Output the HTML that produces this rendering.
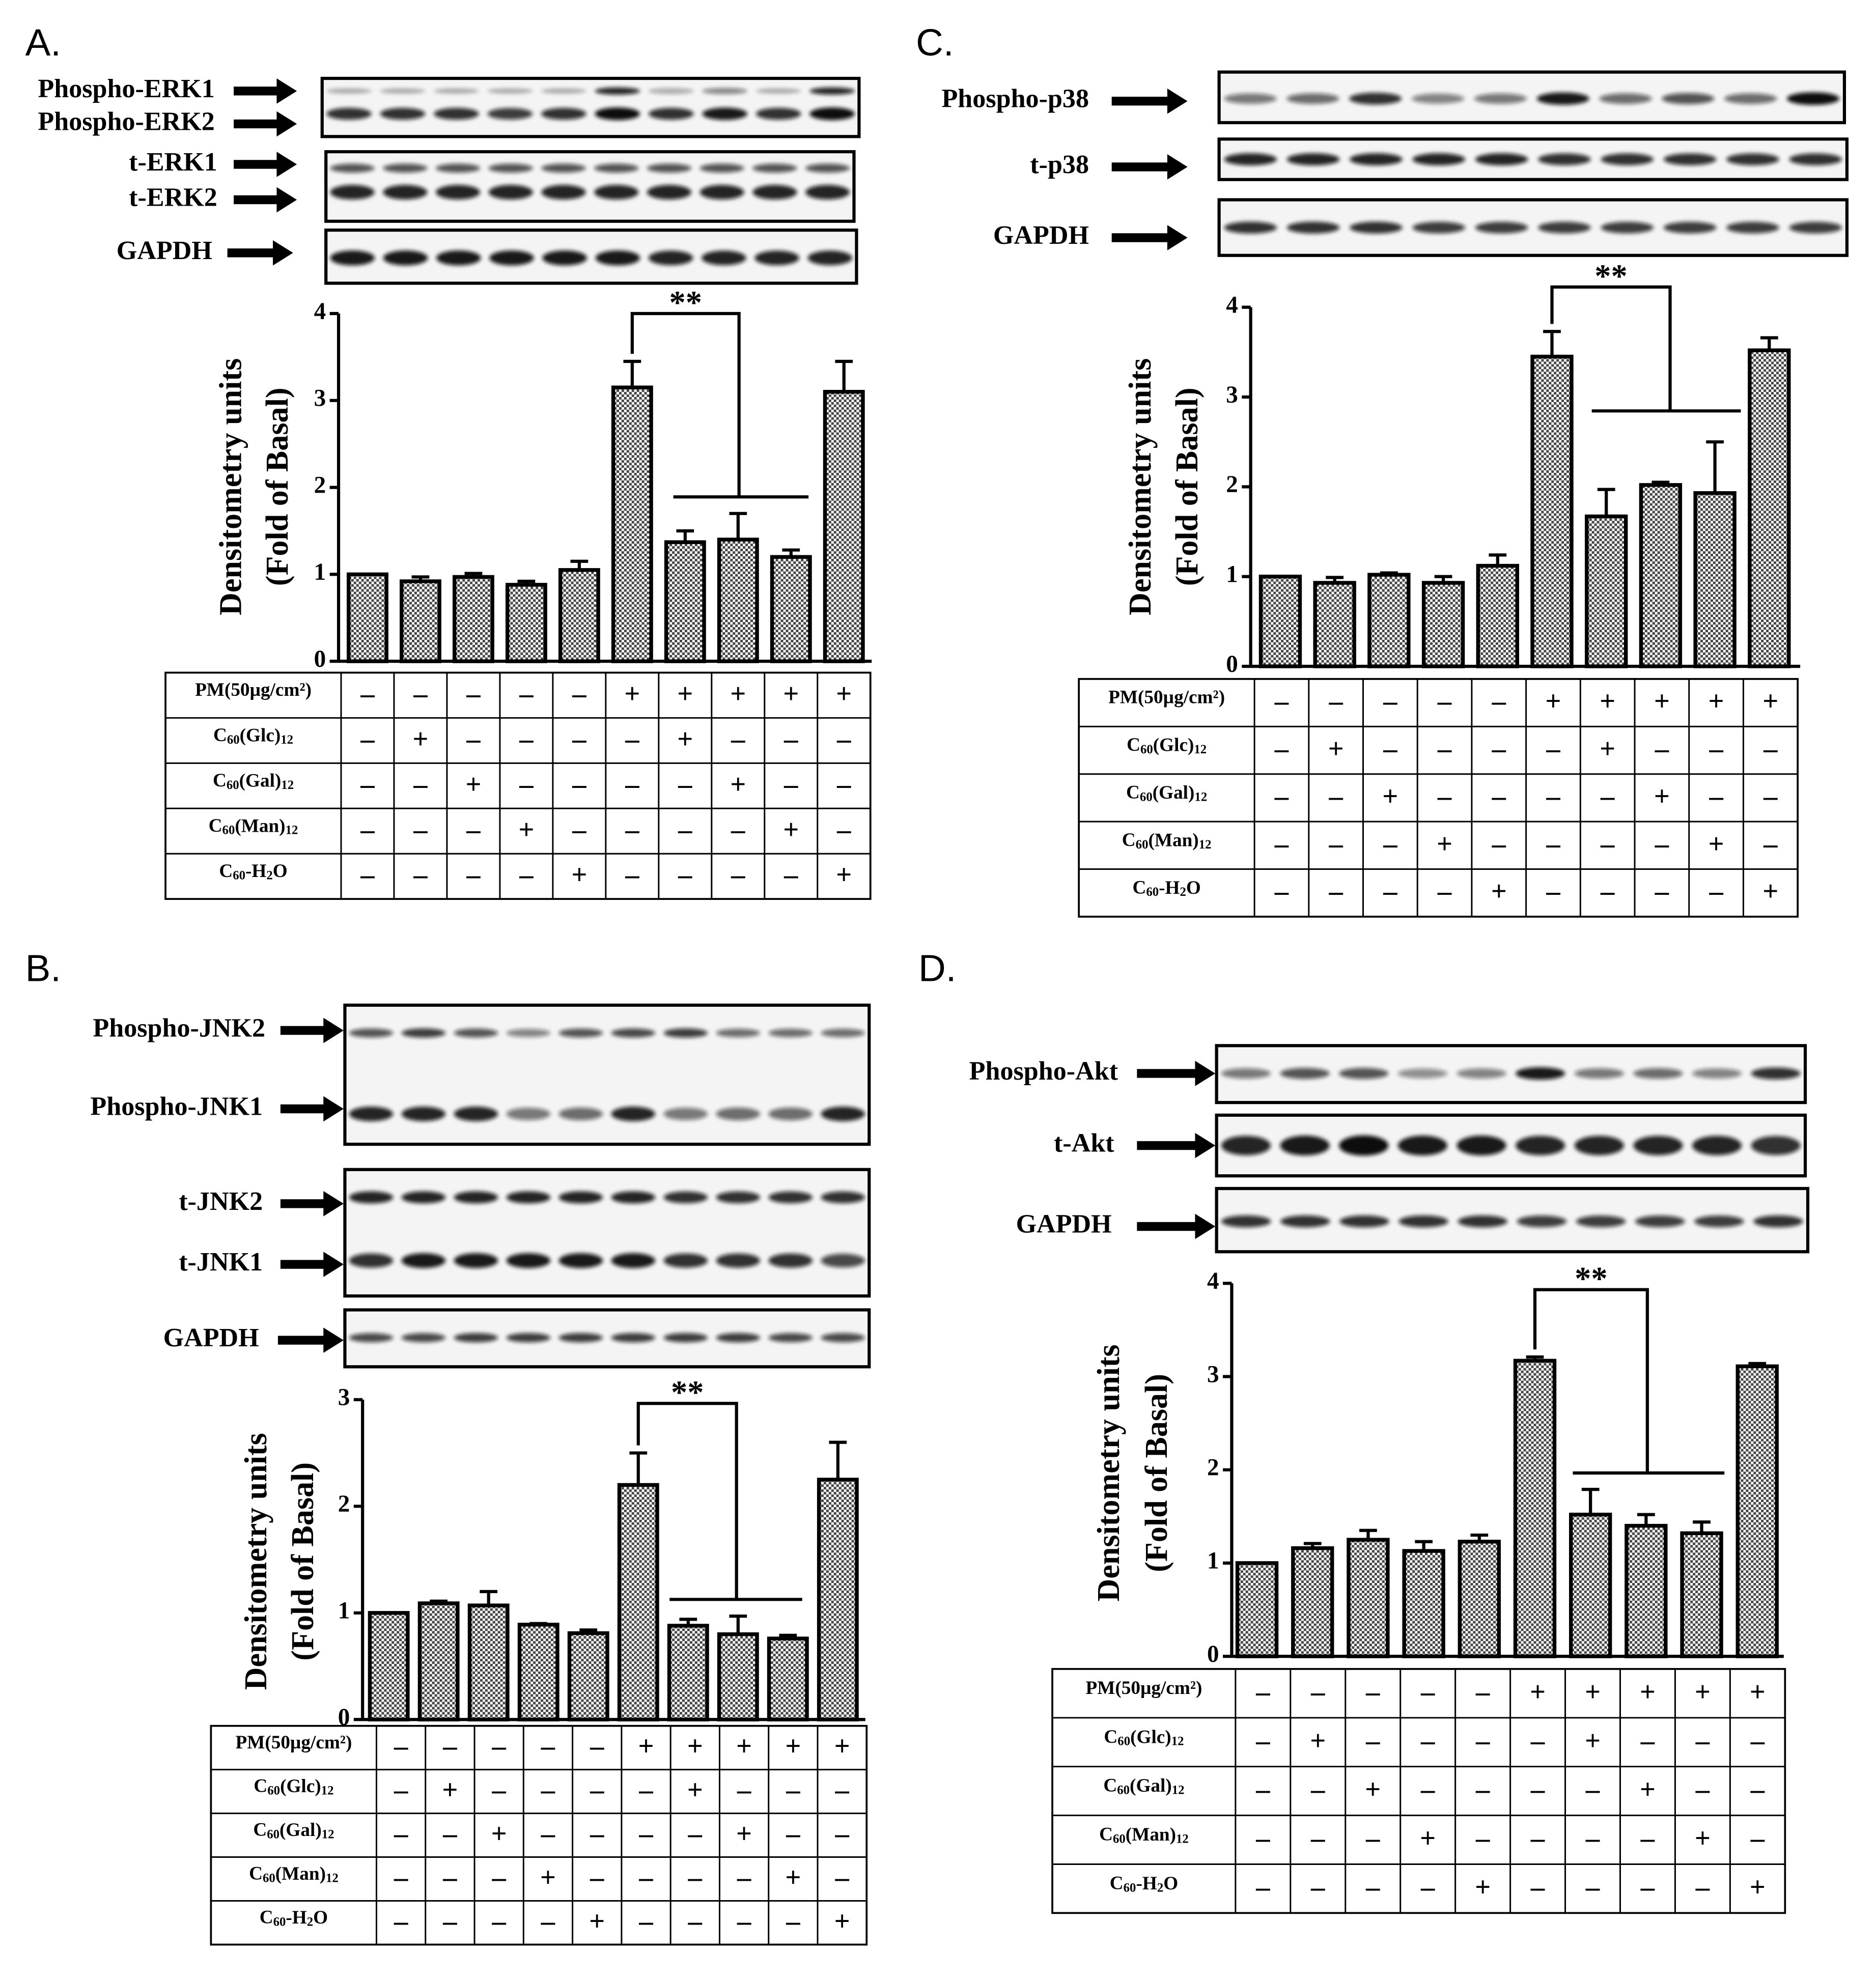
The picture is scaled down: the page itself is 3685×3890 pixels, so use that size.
<!DOCTYPE html>
<html><head><meta charset="utf-8">
<style>
html,body{margin:0;padding:0;background:#fff;}
svg{display:block;}
text{font-family:"Liberation Serif",serif;font-weight:bold;fill:#000;}
.panel-letter{font-family:"Liberation Sans",sans-serif;font-weight:normal;}
</style></head>
<body>
<svg id="fig" xmlns="http://www.w3.org/2000/svg" width="3685" height="3890" viewBox="0 0 1485 1566" preserveAspectRatio="none">
<defs>
<pattern id="chk" width="4" height="4" patternUnits="userSpaceOnUse">
<rect width="4" height="4" fill="#fff"/><rect width="2" height="2" fill="#444"/><rect x="2" y="2" width="2" height="2" fill="#444"/>
</pattern>
<filter id="blur" x="-20%" y="-50%" width="140%" height="200%"><feGaussianBlur stdDeviation="1.6"/></filter>
</defs>
</svg>
<script>
// ---- data ----
const categories = ["1","2","3","4","5","6","7","8","9","10"];
const valuesA = [1.0,0.92,0.97,0.88,1.05,3.15,1.37,1.40,1.20,3.10];
const errorsA = [0,0.05,0.04,0.04,0.1,0.3,0.13,0.3,0.08,0.35];
const valuesB = [1.0,1.09,1.07,0.89,0.81,2.2,0.88,0.80,0.76,2.25];
const errorsB = [0,0.02,0.13,0.01,0.03,0.3,0.06,0.17,0.03,0.35];
const valuesC = [1.0,0.93,1.02,0.93,1.12,3.45,1.67,2.02,1.93,3.52];
const errorsC = [0,0.06,0.02,0.07,0.12,0.28,0.3,0.03,0.57,0.14];
const valuesD = [1.0,1.16,1.25,1.13,1.23,3.17,1.52,1.40,1.32,3.11];
const errorsD = [0,0.05,0.1,0.1,0.07,0.04,0.27,0.12,0.12,0.03];
const ticks4 = [0,1,2,3,4];
const ticks3 = [0,1,2,3];
const tableRows = ["PM","Glc","Gal","Man","H2O"];
const tablePlus = [[5,6,7,8,9],[1,6],[2,7],[3,8],[4,9]];

const NS="http://www.w3.org/2000/svg";
const svg=document.getElementById('fig');
function el(tag,attrs,name,parent){
  const e=document.createElementNS(NS,tag);
  for(const k in attrs) e.setAttribute(k,attrs[k]);
  
  
  (parent||svg).appendChild(e);
  return e;
}
function txt(x,y,s,size,name,anchor,parent){
  const t=el('text',{x:x,y:y,'font-size':size,'text-anchor':anchor||'start','dominant-baseline':'middle'},name,parent);
  t.textContent=s;return t;
}
function arrow(x1,x2,y,name){
  el('line',{x1:x1,y1:y,x2:x2-12,y2:y,stroke:'#000','stroke-width':7},name+'-shaft');
  el('polygon',{points:`${x2-16},${y-10} ${x2},${y} ${x2-16},${y+10}`,fill:'#000'},name+'-head');
}
function blot(b,name){
  const g=el('g',{},name);
  el('rect',{x:b.x,y:b.y,width:b.w,height:b.h,fill:'#f4f4f4',stroke:'#000','stroke-width':2.5},name+'-frame',g);
  const gb=el('g',{filter:'url(#blur)'},name+'-bands',g);
  const lw=b.w/10;
  b.bands.forEach((bd,bi)=>{
    bd.i.forEach((v,li)=>{
      el('ellipse',{cx:b.x+lw*(li+0.5),cy:b.y+bd.y,rx:lw*0.42,ry:bd.h*(0.6+0.4*v),fill:'#111','fill-opacity':v},name+'-band-'+bi+'-'+li,gb);
    });
  });
  b.labels.forEach(l=>{
    txt(l.tx,l.y,l.s,21,name+'-label','end');
    arrow(l.ax1,l.ax2,l.y,name+'-arrow');
  });
}
function chart(c,name){
  const g=el('g',{},name);
  const y=v=>c.y0-(v/c.max)*(c.y0-c.yTop);
  const xs=i=>c.x0+c.step*(i+0.5)+c.pad;
  el('line',{x1:c.ax,y1:c.y0,x2:c.ax,y2:c.yTop,stroke:'#000','stroke-width':2.5},name+'-y-axis',g);
  el('line',{x1:c.ax,y1:c.y0,x2:c.xEnd,y2:c.y0,stroke:'#000','stroke-width':2.5},name+'-x-axis',g);
  c.ticks.forEach(t=>{
    el('line',{x1:c.ax-7,y1:y(t),x2:c.ax,y2:y(t),stroke:'#000','stroke-width':2.5},name+'-tick',g);
    txt(c.ax-10,y(t),String(t),19,name+'-tick-label','end',g);
  });
  c.vals.forEach((v,i)=>{
    const cx=xs(i), top=y(v), e=y(v+c.errs[i]);
    if(c.errs[i]>0){
      el('line',{x1:cx,y1:top,x2:cx,y2:e,stroke:'#000','stroke-width':2.5},name+'-errbar',g);
      el('line',{x1:cx-7,y1:e,x2:cx+7,y2:e,stroke:'#000','stroke-width':2.5},name+'-errcap',g);
    }
    el('rect',{x:cx-c.bw/2,y:top,width:c.bw,height:c.y0-top,fill:'url(#chk)',stroke:'#000','stroke-width':3},name+'-bar-'+categories[i],g);
  });
  const s=c.sig;
  el('polyline',{points:`${xs(5)},${y(c.vals[5]+c.errs[5])-6} ${xs(5)},${s.top} ${s.x2},${s.top} ${s.x2},${s.hy}`,fill:'none',stroke:'#000','stroke-width':2.5},name+'-sig-bracket',g);
  el('line',{x1:s.hx1,y1:s.hy,x2:s.hx2,y2:s.hy,stroke:'#000','stroke-width':2.5},name+'-sig-line',g);
  txt((xs(5)+s.x2)/2,s.top-6,'**',26,name+'-sig-stars','middle',g);
  const t1=el('text',{x:0,y:0,'font-size':25,'text-anchor':'middle','dominant-baseline':'middle',transform:`translate(${c.tx1},${c.tyc}) rotate(-90)`},name+'-y-title',g);t1.textContent='Densitometry units';
  const t2=el('text',{x:0,y:0,'font-size':25,'text-anchor':'middle','dominant-baseline':'middle',transform:`translate(${c.tx2},${c.tyc}) rotate(-90)`},name+'-y-subtitle',g);t2.textContent='(Fold of Basal)';
}
function table(t,name){
  const g=el('g',{},name);
  const rh=(t.y1-t.y0)/5, cw=(t.x1-t.c0)/10;
  el('rect',{x:t.x0,y:t.y0,width:t.x1-t.x0,height:t.y1-t.y0,fill:'none',stroke:'#000','stroke-width':1.5},name+'-border',g);
  for(let r=1;r<5;r++) el('line',{x1:t.x0,y1:t.y0+r*rh,x2:t.x1,y2:t.y0+r*rh,stroke:'#000','stroke-width':1.2},name+'-hline',g);
  for(let c=0;c<10;c++) el('line',{x1:t.c0+c*cw,y1:t.y0,x2:t.c0+c*cw,y2:t.y1,stroke:'#000','stroke-width':1.2},name+'-vline',g);
  tableRows.forEach((rn,r)=>{
    const cy=t.y0+rh*(r+0.5)-3;
    const lx=(t.x0+t.c0)/2;
    const lab=el('text',{x:lx,y:cy,'font-size':15,'text-anchor':'middle','dominant-baseline':'middle'},name+'-row-label',g);
    if(rn==='PM'){lab.textContent='PM(50µg/cm²)';}
    else if(rn==='H2O'){lab.innerHTML='C<tspan font-size="10" dy="3">60</tspan><tspan dy="-3">-H</tspan><tspan font-size="10" dy="3">2</tspan><tspan dy="-3">O</tspan>';}
    else{lab.innerHTML='C<tspan font-size="10" dy="3">60</tspan><tspan dy="-3">('+rn+')</tspan><tspan font-size="10" dy="3">12</tspan>';}
    for(let c=0;c<10;c++){
      const plus=tablePlus[r].includes(c);
      txt(t.c0+cw*(c+0.5),cy+4,plus?'+':'–',22,name+'-cell','middle',g);
    }
  });
}
// ---- Panel letters ----
[['A.',20,36],['C.',725,36],['B.',20,768],['D.',727,768]].forEach(p=>{
  const t=el('text',{x:p[1],y:p[2],'font-size':30,'dominant-baseline':'middle',class:'panel-letter'},'panel-letter-'+p[0][0]);t.textContent=p[0];
});
// ---- Panel A ----
blot({x:255,y:62,w:425,h:46,bands:[{y:10,h:3,i:[.3,.3,.3,.3,.3,.9,.35,.5,.3,.9]},{y:28,h:5,i:[.85,.85,.85,.8,.85,1,.85,.95,.85,1]}],labels:[{s:'Phospho-ERK1',y:72,tx:170,ax1:185,ax2:235},{s:'Phospho-ERK2',y:98,tx:170,ax1:185,ax2:235}]},'blot-a-phospho-erk');
blot({x:258,y:120,w:418,h:55,bands:[{y:13,h:4,i:[.7,.7,.7,.7,.7,.7,.7,.7,.7,.7]},{y:32,h:6,i:[.9,.9,.9,.9,.9,.9,.9,.9,.9,.9]}],labels:[{s:'t-ERK1',y:130,tx:172,ax1:185,ax2:235},{s:'t-ERK2',y:158,tx:172,ax1:185,ax2:235}]},'blot-a-total-erk');
blot({x:258,y:182,w:420,h:42,bands:[{y:22,h:6,i:[.95,.95,.95,.95,.95,.95,.9,.9,.9,.9]}],labels:[{s:'GAPDH',y:200,tx:168,ax1:180,ax2:232}]},'blot-a-gapdh');
chart({vals:valuesA,errs:errorsA,ticks:ticks4,max:4,ax:268,y0:523,yTop:248,x0:270,step:41.9,pad:0,bw:30,xEnd:690,sig:{top:248,x2:585,hy:393,hx1:533,hx2:640},tx1:185,tx2:222,tyc:385},'chart-a');
table({x0:131,x1:689,c0:270,y0:532,y1:711},'table-a');
// ---- Panel C ----
blot({x:965,y:57,w:495,h:40,bands:[{y:21,h:5,i:[.55,.6,.85,.5,.55,.95,.6,.7,.6,1]}],labels:[{s:'Phospho-p38',y:80,tx:862,ax1:880,ax2:940}]},'blot-c-phospho-p38');
blot({x:965,y:110,w:497,h:32,bands:[{y:16,h:5,i:[.9,.9,.9,.9,.9,.85,.85,.85,.85,.85]}],labels:[{s:'t-p38',y:132,tx:862,ax1:880,ax2:940}]},'blot-c-total-p38');
blot({x:965,y:158,w:497,h:44,bands:[{y:22,h:5,i:[.85,.85,.85,.8,.8,.8,.8,.8,.8,.8]}],labels:[{s:'GAPDH',y:188,tx:862,ax1:880,ax2:940}]},'blot-c-gapdh');
chart({vals:valuesC,errs:errorsC,ticks:ticks4,max:4,ax:990,y0:527,yTop:243,x0:992,step:43,pad:0,bw:31,xEnd:1425,sig:{top:227,x2:1322,hy:325,hx1:1260,hx2:1378},tx1:905,tx2:942,tyc:385},'chart-c');
table({x0:854,x1:1423,c0:993,y0:537,y1:725},'table-c');
// ---- Panel B ----
blot({x:273,y:795,w:415,h:110,bands:[{y:22,h:4,i:[.7,.8,.7,.5,.7,.75,.8,.6,.6,.6]},{y:86,h:6,i:[.9,.9,.9,.55,.6,.9,.55,.6,.6,.9]}],labels:[{s:'Phospho-JNK2',y:815,tx:210,ax1:222,ax2:272},{s:'Phospho-JNK1',y:877,tx:208,ax1:222,ax2:272}]},'blot-b-phospho-jnk');
blot({x:273,y:925,w:415,h:100,bands:[{y:22,h:5,i:[.9,.9,.9,.9,.9,.9,.85,.85,.85,.85]},{y:72,h:6,i:[.85,.95,.95,.95,.95,.95,.85,.85,.85,.75]}],labels:[{s:'t-JNK2',y:952,tx:208,ax1:222,ax2:272},{s:'t-JNK1',y:1000,tx:208,ax1:222,ax2:272}]},'blot-b-total-jnk');
blot({x:273,y:1036,w:415,h:45,bands:[{y:22,h:4,i:[.75,.75,.8,.8,.8,.8,.8,.8,.75,.75]}],labels:[{s:'GAPDH',y:1060,tx:205,ax1:220,ax2:272}]},'blot-b-gapdh');
chart({vals:valuesB,errs:errorsB,ticks:ticks3,max:3,ax:287,y0:1360,yTop:1107,x0:288,step:39.5,pad:0,bw:30,xEnd:685,sig:{top:1110,x2:583,hy:1265,hx1:530,hx2:635},tx1:205,tx2:242,tyc:1235},'chart-b');
table({x0:167,x1:686,c0:298,y0:1365,y1:1538},'table-b');
// ---- Panel D ----
blot({x:963,y:827,w:466,h:45,bands:[{y:22,h:5,i:[.55,.7,.7,.45,.5,.95,.55,.6,.5,.85]}],labels:[{s:'Phospho-Akt',y:849,tx:885,ax1:900,ax2:962}]},'blot-d-phospho-akt');
blot({x:963,y:882,w:466,h:48,bands:[{y:24,h:8,i:[.9,.95,1,.95,.95,.9,.9,.9,.9,.85]}],labels:[{s:'t-Akt',y:906,tx:882,ax1:900,ax2:962}]},'blot-d-total-akt');
blot({x:963,y:940,w:468,h:50,bands:[{y:26,h:5,i:[.85,.85,.85,.85,.85,.8,.8,.8,.8,.85]}],labels:[{s:'GAPDH',y:970,tx:880,ax1:900,ax2:962}]},'blot-d-gapdh');
chart({vals:valuesD,errs:errorsD,ticks:ticks4,max:4,ax:975,y0:1310,yTop:1015,x0:973,step:44,pad:0,bw:31,xEnd:1412,sig:{top:1020,x2:1304,hy:1165,hx1:1245,hx2:1365},tx1:880,tx2:918,tyc:1165},'chart-d');
table({x0:833,x1:1413,c0:978,y0:1320,y1:1513},'table-d');
</script>
</body></html>
